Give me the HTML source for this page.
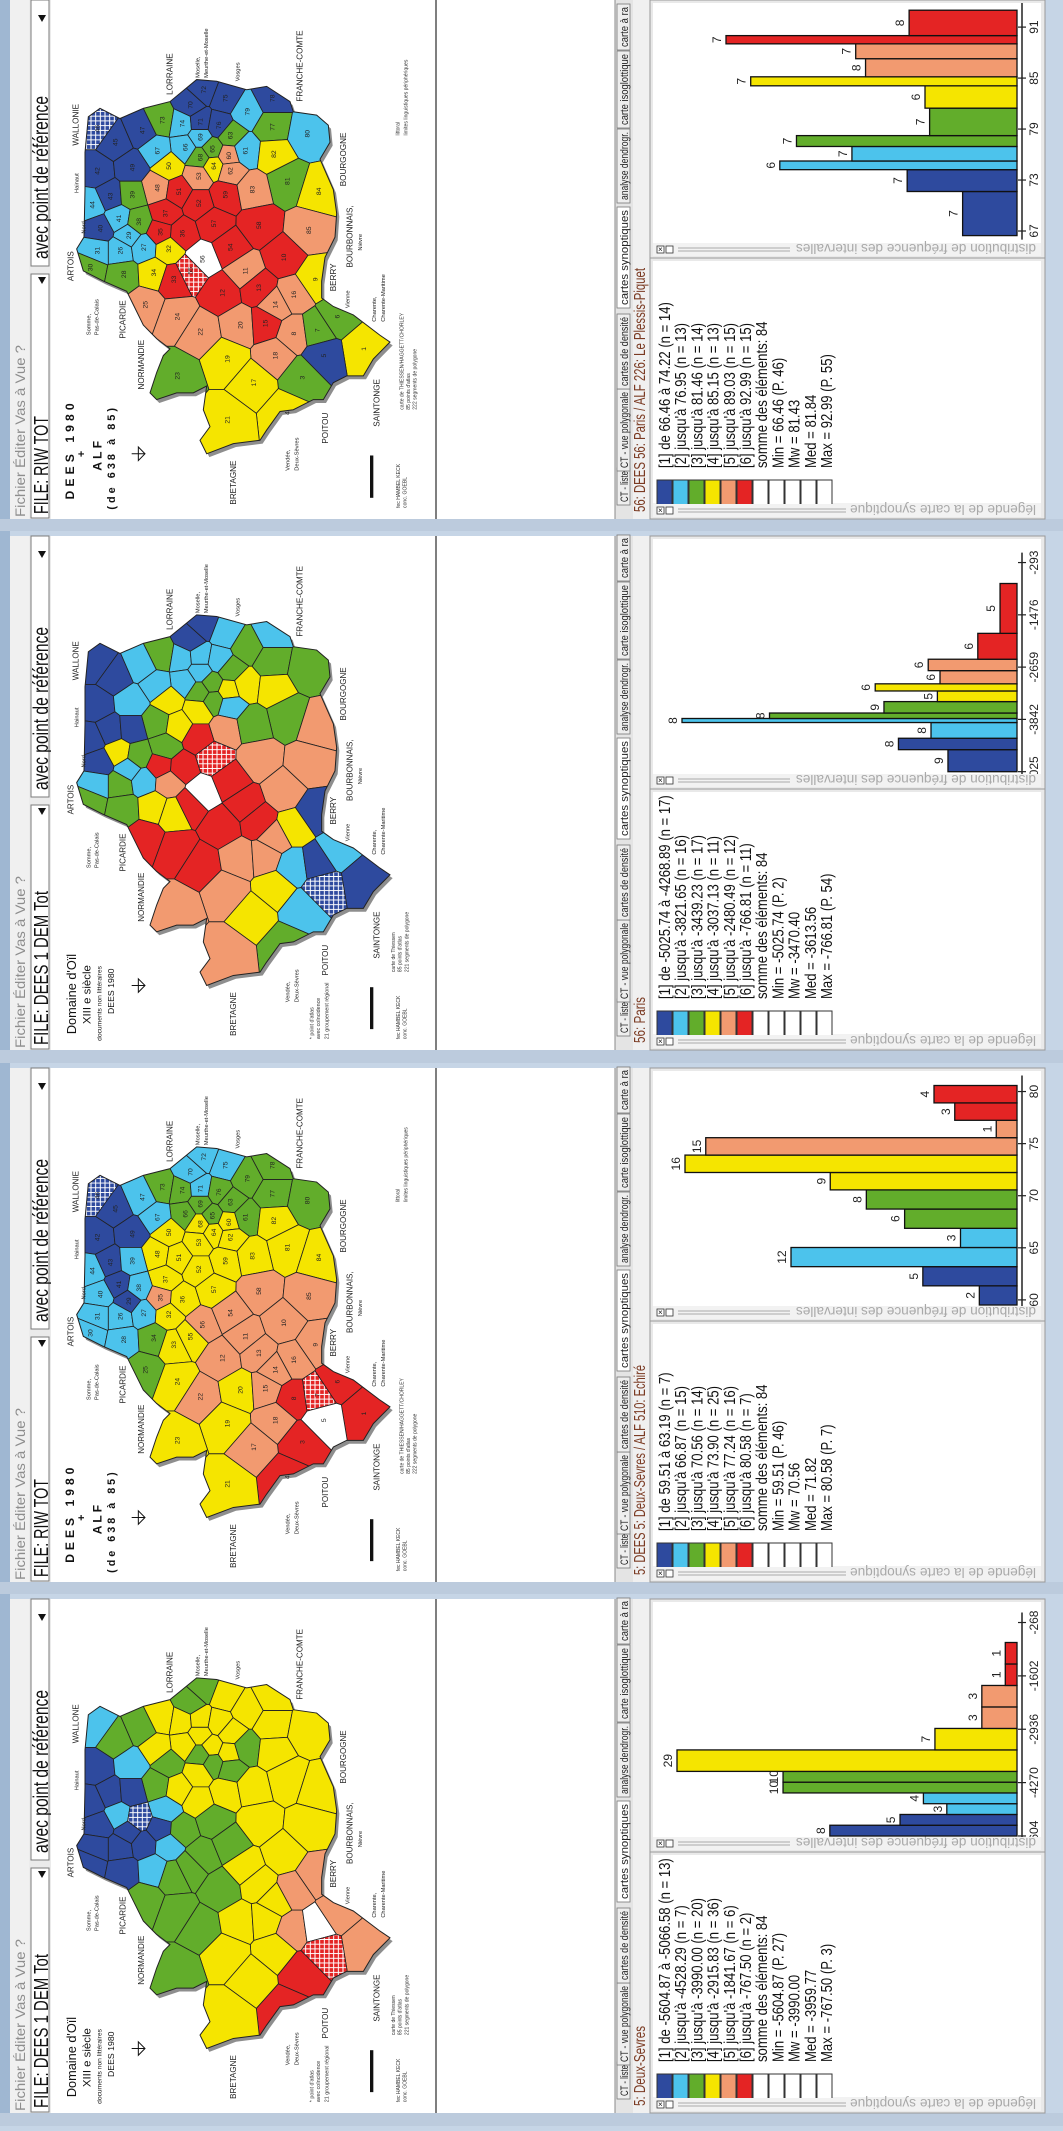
<!DOCTYPE html>
<html><head><meta charset="utf-8">
<style>
html,body{margin:0;padding:0}
body{width:1063px;height:2126px;overflow:hidden;background:#c6d5e6;font-family:"Liberation Sans",Arial,sans-serif}
.panel{position:absolute;left:0;width:1063px;height:532px}
svg text{font-family:"Liberation Sans",Arial,sans-serif}
</style></head>
<body>
<div id="root"></div>
<script>
const NS='http://www.w3.org/2000/svg';

// ---------- chart data (histograms) ----------
const p1Edges=[66.46,71.65,74.22,75.24,76.95,78.23,81.46,84.09,85.15,87.28,89.03,90.0,92.99];
const p1Counts=[7,7,6,7,7,7,6,7,8,7,7,8];
const p1Ticks=[67,73,79,85,91];
const p1TickLabels=['67','73','79','85','91'];

const p2Edges=[-5025.74,-4527,-4268.89,-3913,-3821.65,-3698,-3439.23,-3199,-3037.13,-2739,-2480.49,-1895,-766.81];
const p2Counts=[9,8,8,8,8,9,5,6,6,6,6,5];
const p2Ticks=[-5025,-3842,-2659,-1476,-293];
const p2TickLabels=['-5025','-3842','-2659','-1476','-293'];

const p3Edges=[59.51,61.35,63.19,65.03,66.87,68.72,70.56,72.23,73.90,75.57,77.24,78.91,80.58];
const p3Counts=[2,5,12,3,6,8,9,16,15,1,3,4];
const p3Ticks=[60,65,70,75,80];
const p3TickLabels=['60','65','70','75','80'];

const p4Edges=[-5604.87,-5335.73,-5066.58,-4797.44,-4528.29,-4259.15,-3990.00,-3452.92,-2915.83,-2378.75,-1841.67,-1304.59,-767.50];
const p4Counts=[8,5,3,4,10,10,29,7,3,3,1,1];
const p4Ticks=[-5604,-4270,-2936,-1602,-268];
const p4TickLabels=['-5604','-4270','-2936','-1602','-268'];

const classColors=['#2e4a9e','#4cc3ec','#62ad2b','#f5e500','#f29a70','#e42424'];

const p1Legend=["[1] de 66.46 à 74.22 (n = 14)","[2] jusqu'à 76.95 (n = 13)","[3] jusqu'à 81.46 (n = 14)","[4] jusqu'à 85.15 (n = 13)","[5] jusqu'à 89.03 (n = 15)","[6] jusqu'à 92.99 (n = 15)","somme des éléments: 84","Min = 66.46  (P. 46)","Mw = 81.43","Med = 81.84","Max = 92.99  (P. 55)"];
const p2Legend=["[1] de -5025.74 à -4268.89 (n = 17)","[2] jusqu'à -3821.65 (n = 16)","[3] jusqu'à -3439.23 (n = 17)","[4] jusqu'à -3037.13 (n = 11)","[5] jusqu'à -2480.49 (n = 12)","[6] jusqu'à -766.81 (n = 11)","somme des éléments: 84","Min = -5025.74  (P. 2)","Mw = -3470.40","Med = -3613.56","Max = -766.81  (P. 54)"];
const p3Legend=["[1] de 59.51 à 63.19 (n = 7)","[2] jusqu'à 66.87 (n = 15)","[3] jusqu'à 70.56 (n = 14)","[4] jusqu'à 73.90 (n = 25)","[5] jusqu'à 77.24 (n = 16)","[6] jusqu'à 80.58 (n = 7)","somme des éléments: 84","Min = 59.51  (P. 46)","Mw = 70.56","Med = 71.82","Max = 80.58  (P. 7)"];
const p4Legend=["[1] de -5604.87 à -5066.58 (n = 13)","[2] jusqu'à -4528.29 (n = 7)","[3] jusqu'à -3990.00 (n = 20)","[4] jusqu'à -2915.83 (n = 36)","[5] jusqu'à -1841.67 (n = 6)","[6] jusqu'à -767.50 (n = 2)","somme des éléments: 84","Min = -5604.87  (P. 27)","Mw = -3990.00","Med = -3959.77","Max = -767.50  (P. 3)"];

// ---------- map seeds (shared point network) ----------
const mapSeeds=[[46,290,380],[45,345,420],[47,425,385],[73,485,355],[70,570,310],[72,610,265],[75,675,290],[78,815,290],[79,740,330],[74,545,365],[71,600,360],[76,655,370],[63,690,400],[77,815,375],[80,920,395],[69,600,405],[66,555,435],[65,635,440],[61,735,445],[67,470,445],[42,290,505],[49,395,495],[50,505,490],[68,600,465],[64,640,490],[60,685,460],[62,690,505],[82,820,455],[81,860,535],[84,955,565],[53,595,520],[48,470,555],[51,535,565],[59,675,575],[83,755,560],[44,275,605],[43,330,580],[39,395,575],[52,595,600],[37,495,630],[58,775,665],[85,925,680],[40,300,675],[41,355,645],[29,385,695],[38,415,655],[35,480,685],[36,545,690],[57,640,660],[31,290,740],[26,360,740],[27,430,730],[32,505,735],[56,605,765],[54,690,730],[10,850,760],[30,270,790],[28,370,810],[34,460,805],[33,520,825],[55,570,800],[11,735,800],[9,945,825],[12,665,865],[13,775,850],[16,880,870],[14,825,900],[25,435,900],[24,530,935],[22,600,980],[20,720,960],[15,795,955],[8,880,985],[7,950,975],[6,1010,935],[1,1090,1030],[5,970,1050],[18,825,1050],[19,680,1060],[23,530,1110],[3,905,1115],[17,760,1130],[4,860,1220],[21,680,1240]];
const outline=[[230,735],[252,700],[255,560],[255,450],[265,345],[300,320],[360,350],[430,320],[510,300],[590,235],[650,240],[740,265],[800,255],[870,300],[880,330],[950,340],[985,370],[990,420],[960,470],[1000,560],[1010,630],[1005,700],[975,760],[965,830],[965,880],[1000,905],[1060,930],[1140,990],[1170,1010],[1120,1060],[1090,1110],[1040,1110],[1000,1130],[970,1180],[940,1180],[880,1210],[840,1215],[800,1270],[780,1300],[700,1310],[620,1340],[600,1300],[630,1260],[610,1210],[620,1140],[580,1160],[530,1160],[470,1180],[450,1160],[470,1100],[490,1050],[510,1030],[470,1000],[430,960],[400,900],[380,860],[310,830],[250,800]];

const m1={46:'BH',45:'B',47:'B',73:'G',70:'B',72:'B',75:'B',78:'B',79:'L',74:'L',71:'B',76:'B',63:'G',77:'G',80:'L',69:'L',66:'L',65:'G',61:'L',67:'L',42:'B',49:'B',50:'Y',68:'G',64:'Y',60:'S',62:'S',82:'Y',81:'G',84:'Y',53:'S',48:'S',51:'R',59:'R',83:'S',44:'L',43:'B',39:'G',52:'R',37:'R',58:'R',85:'S',40:'B',41:'L',29:'L',38:'G',35:'R',36:'R',57:'R',31:'L',26:'L',27:'L',32:'Y',56:'W',54:'R',10:'R',30:'G',28:'G',34:'Y',33:'R',55:'RH',11:'S',9:'Y',12:'R',13:'R',16:'S',14:'S',25:'S',24:'S',22:'S',20:'S',15:'R',8:'S',7:'G',6:'G',1:'Y',5:'B',18:'S',19:'Y',23:'G',3:'G',17:'Y',4:'Y',21:'Y'};
const m2={46:'B',45:'B',47:'L',73:'G',70:'B',72:'B',75:'L',78:'L',79:'G',74:'L',71:'L',76:'L',63:'G',77:'G',80:'G',69:'L',66:'L',65:'G',61:'Y',67:'L',42:'B',49:'L',50:'Y',68:'G',64:'G',60:'Y',62:'L',82:'Y',81:'G',84:'S',53:'Y',48:'G',51:'Y',59:'S',83:'G',44:'B',43:'B',39:'B',52:'R',37:'G',58:'S',85:'S',40:'B',41:'Y',29:'L',38:'G',35:'R',36:'R',57:'RH',31:'L',26:'G',27:'L',32:'S',56:'W',54:'R',10:'S',30:'G',28:'G',34:'Y',33:'Y',55:'R',11:'R',9:'B',12:'R',13:'R',16:'Y',14:'S',25:'R',24:'R',22:'R',20:'S',15:'S',8:'L',7:'B',6:'L',1:'B',5:'BH',18:'Y',19:'S',23:'S',3:'L',17:'Y',4:'G',21:'S'};
const m3={46:'BH',45:'B',47:'L',73:'G',70:'L',72:'L',75:'L',78:'G',79:'G',74:'G',71:'L',76:'G',63:'G',77:'G',80:'G',69:'G',66:'G',65:'G',61:'G',67:'L',42:'B',49:'B',50:'Y',68:'Y',64:'Y',60:'Y',62:'Y',82:'Y',81:'Y',84:'Y',53:'Y',48:'Y',51:'Y',59:'Y',83:'Y',44:'L',43:'B',39:'L',52:'Y',37:'Y',58:'S',85:'S',40:'L',41:'B',29:'B',38:'L',35:'S',36:'Y',57:'Y',31:'L',26:'L',27:'L',32:'Y',56:'S',54:'S',10:'S',30:'L',28:'L',34:'G',33:'Y',55:'Y',11:'S',9:'S',12:'S',13:'S',16:'S',14:'S',25:'G',24:'Y',22:'S',20:'Y',15:'S',8:'R',7:'RH',6:'R',1:'R',5:'W',18:'S',19:'Y',23:'Y',3:'R',17:'S',4:'R',21:'Y'};
const m4={46:'L',45:'G',47:'G',73:'Y',70:'G',72:'G',75:'Y',78:'Y',79:'Y',74:'Y',71:'Y',76:'Y',63:'Y',77:'Y',80:'Y',69:'Y',66:'Y',65:'Y',61:'G',67:'Y',42:'B',49:'L',50:'G',68:'G',64:'G',60:'Y',62:'G',82:'Y',81:'Y',84:'Y',53:'Y',48:'G',51:'Y',59:'Y',83:'Y',44:'B',43:'B',39:'B',52:'Y',37:'L',58:'Y',85:'Y',40:'B',41:'L',29:'B',38:'BH',35:'B',36:'G',57:'G',31:'B',26:'B',27:'B',32:'L',56:'G',54:'G',10:'Y',30:'B',28:'B',34:'L',33:'G',55:'G',11:'Y',9:'S',12:'G',13:'Y',16:'S',14:'Y',25:'G',24:'G',22:'G',20:'Y',15:'Y',8:'S',7:'W',6:'S',1:'S',5:'RH',18:'Y',19:'Y',23:'G',3:'R',17:'Y',4:'R',21:'Y'};

const regions=[["ARTOIS",220,830,24],["Hainaut",236,570,17],["Nord",256,690,17],["Somme,",272,990,17],["Pas-de-Calais",296,990,17],["PICARDIE",376,1000,24],["NORMANDIE",432,1150,24],["LORRAINE",518,280,24],["Moselle,",598,230,17],["Meurthe-et-Moselle",624,230,17],["Vosges",718,240,17],["FRANCHE-COMTE",908,300,24],["BOURGOGNE",1038,550,24],["BOURBONNAIS,",1058,790,24],["Nièvre",1086,740,17],["BERRY",1008,860,24],["Vienne",1048,910,17],["Charente,",1128,950,17],["Charente-Maritime",1155,950,17],["SAINTONGE",1138,1260,24],["POITOU",984,1310,24],["Vendée,",868,1390,17],["Deux-Sèvres",895,1390,17],["BRETAGNE",708,1490,24]];

const fillOf={B:'#2e4a9e',L:'#4cc3ec',G:'#62ad2b',Y:'#f5e500',S:'#f29a70',R:'#e42424',W:'#ffffff',BH:'url(#hatchB)',RH:'url(#hatchR)'};

// ---------- helpers ----------
function el(tag,parent){const e=document.createElementNS(NS,tag);parent.appendChild(e);return e;}
function at(e,o){for(const k in o)e.setAttribute(k,o[k]);return e;}
function rtext(parent,str,x,y,size,o){
  const t=el('text',parent);
  at(t,{transform:'translate('+x+' '+y+') rotate(-90)'+(o&&o.sx?' scale('+o.sx+' 1)':''),'font-size':size,fill:(o&&o.fill)||'#111'});
  if(o&&o.weight)t.setAttribute('font-weight',o.weight);
  if(o&&o.anchor)t.setAttribute('text-anchor',o.anchor);
  if(o&&o.len){t.setAttribute('textLength',o.len);t.setAttribute('lengthAdjust','spacingAndGlyphs');}
  if(o&&o.ls)t.setAttribute('letter-spacing',o.ls);
  t.textContent=str;return t;
}
function clipHalf(poly,p,q){
  const mx=(p[0]+q[0])/2,my=(p[1]+q[1])/2,dx=q[0]-p[0],dy=q[1]-p[1];
  const f=v=>(v[0]-mx)*dx+(v[1]-my)*dy;const out=[];
  for(let i=0;i<poly.length;i++){const a=poly[i],b=poly[(i+1)%poly.length];const fa=f(a),fb=f(b);
    if(fa<=0)out.push(a);
    if((fa<0&&fb>0)||(fa>0&&fb<0)){const t=fa/(fa-fb);out.push([a[0]+t*(b[0]-a[0]),a[1]+t*(b[1]-a[1])]);}}
  return out;
}
const cells=mapSeeds.map(s=>{let poly=[[150,150],[1250,150],[1250,1450],[150,1450]];
  for(const q of mapSeeds){if(q!==s)poly=clipHalf(poly,[s[1],s[2]],[q[1],q[2]]);}return poly;});
const ptsStr=a=>a.map(p=>p[0].toFixed(1)+','+p[1].toFixed(1)).join(' ');

// ---------- panel builder ----------
function buildPanel(k,cfg){
  const div=document.createElement('div');div.className='panel';div.style.top=cfg.y0+'px';
  
  
  document.getElementById('root').appendChild(div);
  const svg=document.createElementNS(NS,'svg');div.appendChild(svg);
  at(svg,{width:1063,height:532,viewBox:'0 0 1063 532'});
  const defs=el('defs',svg);
  const pb=at(el('pattern',defs),{id:'hatchB',width:14,height:14,patternUnits:'userSpaceOnUse'});
  at(el('rect',pb),{width:14,height:14,fill:'#2e4a9e'});
  at(el('path',pb),{d:'M0 7H14M7 0V14',stroke:'#fff','stroke-width':3});
  const pr=at(el('pattern',defs),{id:'hatchR',width:14,height:14,patternUnits:'userSpaceOnUse'});
  at(el('rect',pr),{width:14,height:14,fill:'#e42424'});
  at(el('path',pr),{d:'M0 7H14M7 0V14',stroke:'#fff','stroke-width':3});
  const cpH=at(el('clipPath',defs),{id:'clipH'+k});at(el('rect',cpH),{x:653,y:3,width:388,height:240});
  const cpL=at(el('clipPath',defs),{id:'clipL'+k});at(el('rect',cpL),{x:653,y:260,width:388,height:244});
  const cpM=at(el('clipPath',defs),{id:'clipM'+k});at(el('polygon',cpM),{points:ptsStr(outline)});

  const top=cfg.topGap;
  // frame
  at(el('rect',svg),{x:0,y:0,width:1063,height:532,fill:'#c6d5e6'});
  at(el('rect',svg),{x:0,y:0,width:10,height:532,fill:'#9fb7d2'});
  at(el('rect',svg),{x:0,y:519,width:1063,height:13,fill:'#bccbdd'});
  // menu
  const menu=at(el('rect',svg),{x:10,y:top,width:19,height:519-top,fill:'#f0f0f0'});
  
  
  const mt=rtext(svg,'Fichier    Éditer    Vas à    Vue    ?',25,517,14,{fill:'#8d8d8d',len:172});
  
  
  // toolbar
  at(el('rect',svg),{x:29,y:top,width:22,height:519-top,fill:'#ebebeb'});
  const b1=at(el('rect',svg),{x:31,y:274,width:18,height:244,fill:'#fff',stroke:'#7b7b7b'});
  
  
  rtext(svg,cfg.file,48,514,20,{len:cfg.fileLen});
  at(el('polygon',svg),{points:'38,277 46,277 42,284',fill:'#111'});
  const b2=at(el('rect',svg),{x:31,y:top,width:18,height:266-top,fill:'#fff',stroke:'#7b7b7b'});
  
  
  rtext(svg,'avec point de référence',48,259,21,{len:163});
  at(el('polygon',svg),{points:'38,'+(top+15)+' 46,'+(top+15)+' 42,'+(top+22),fill:'#111'});
  // white panes
  at(el('rect',svg),{x:51,y:top,width:564,height:519-top,fill:'#fff'});
  at(el('line',svg),{x1:436,y1:top,x2:436,y2:519,stroke:'#555','stroke-width':1.5});
  // map
  const mapSvg=at(el('svg',svg),{x:0,y:top,width:440,height:531-top,viewBox:'0 0 1320 1568',preserveAspectRatio:'none'});
  
  
  const shadow=at(el('polygon',mapSvg),{points:ptsStr(outline.map(p=>[p[0]+8,p[1]+10])),fill:'#8e8e8e'});
  
  
  const cg=at(el('g',mapSvg),{'clip-path':'url(#clipM'+k+')'});
  mapSeeds.forEach((s,i)=>{
    const c=at(el('polygon',cg),{points:ptsStr(cells[i]),fill:fillOf[cfg.colors[s[0]]],stroke:'#222','stroke-width':2.5});
    
    
  });
  at(el('polygon',mapSvg),{points:ptsStr(outline),fill:'none',stroke:'#222','stroke-width':3});
  if(cfg.riw){mapSeeds.forEach(s=>{const n=rtext(mapSvg,String(s[0]),s[1]+8,s[2],20,{anchor:'middle',fill:'#222'});});}
  regions.forEach(r=>{rtext(mapSvg,r[0],r[1],r[2],r[3],{fill:'#222'});});
  rtext(mapSvg,cfg.riw?'WALLONIE':'WALLONE',236,430,24,{fill:'#222'});
  if(cfg.riw){
    rtext(mapSvg,'DEES 1980',222,1475,36,{weight:'bold',ls:12});
    rtext(mapSvg,'+',255,1350,32,{weight:'bold'});
    rtext(mapSvg,'A L F',305,1390,36,{weight:'bold'});
    rtext(mapSvg,'(de 638 à 85)',345,1505,32,{weight:'bold',ls:9});
    rtext(mapSvg,'littoral',1198,400,15,{fill:'#333'});
    rtext(mapSvg,'limites linguistiques périphériques',1222,400,15,{fill:'#333'});
    rtext(mapSvg,'carte de THIESSEN/HAGGETT/CHORLEY',1210,1210,15,{fill:'#333'});
    rtext(mapSvg,'85 points d\'atlas',1230,1210,15,{fill:'#333'});
    rtext(mapSvg,'222 segments de polygone',1250,1210,15,{fill:'#333'});
  }else{
    rtext(mapSvg,'Domaine d\'Oïl',228,1485,38,{});
    rtext(mapSvg,'XIII e siècle',272,1455,34,{});
    rtext(mapSvg,'documents non littéraires',304,1505,20,{});
    rtext(mapSvg,'DEES 1980',342,1425,26,{});
    rtext(mapSvg,'* point d\'atlas',940,1500,16,{fill:'#333'});
    rtext(mapSvg,'avec coïncidence',960,1500,16,{fill:'#333'});
    rtext(mapSvg,'21 groupement régional',985,1500,16,{fill:'#333'});
    rtext(mapSvg,'carte de Thiessen',1185,1300,15,{fill:'#333'});
    rtext(mapSvg,'85 points d\'atlas',1205,1300,15,{fill:'#333'});
    rtext(mapSvg,'221 segments de polygone',1225,1300,15,{fill:'#333'});
  }
  at(el('rect',mapSvg),{x:1110,y:1345,width:10,height:125,fill:'#111'});
  at(el('path',mapSvg),{d:'M415 1320 L435 1340 L415 1360 Z M435 1340 H395',stroke:'#111','stroke-width':3,fill:'none'});
  rtext(mapSvg,'fec HAMBEL KECK',1200,1500,15,{fill:'#333'});
  rtext(mapSvg,'conc. GOEBL',1220,1500,15,{fill:'#333'});

  // tabs
  at(el('rect',svg),{x:615,y:top,width:18,height:519-top,fill:'#e4e4e4'});
  at(el('line',svg),{x1:615,y1:top,x2:615,y2:519,stroke:'#8a8a8a'});
  const tabs=[['CT - liste',502,31],['CT - vue polygonale',468,76],['cartes de densité',386,69],['cartes synoptiques',305,95],['analyse dendrogr.',200,68],['carte isoglottique',125,71],['carte à ra',47,40]];
  tabs.forEach((t,i)=>{
    const r=at(el('rect',svg),{x:617,y:t[1]-t[2]-3,width:13,height:t[2]+6,fill:i===3?'#fff':'#eeeeee',stroke:'#777','stroke-width':0.8});
    
    
    rtext(svg,t[0],628,t[1],11,{len:t[2],fill:'#222'});
  });
  // status
  at(el('rect',svg),{x:633,y:top,width:18,height:519-top,fill:'#f0f0f0'});
  const st=rtext(svg,cfg.status,645,512,16,{fill:'#7a3a22',len:cfg.statusLen});
  
  
  // subpanels
  at(el('rect',svg),{x:650,y:top,width:395,height:519-top,fill:'#e9e9e9',stroke:'#999'});
  const hp=at(el('rect',svg),{x:653,y:top+3,width:388,height:240-top,fill:'#fff'});
  
  
  at(el('rect',svg),{x:653,y:243,width:388,height:13,fill:'#f2f2f2'});
  at(el('line',svg),{x1:650,y1:258,x2:1045,y2:258,stroke:'#999'});
  const lp=at(el('rect',svg),{x:653,y:261,width:388,height:242,fill:'#fff'});
  
  
  at(el('rect',svg),{x:653,y:503,width:388,height:14,fill:'#f2f2f2'});
  // title bars
  function titleBar(y,text,len,lineEnd){
    at(el('rect',svg),{x:657,y:y+1,width:7,height:7,fill:'#fff',stroke:'#333','stroke-width':0.8});
    at(el('text',svg),{x:658,y:y+7,'font-size':8,fill:'#111'}).textContent='×';
    const ic=at(el('rect',svg),{x:666,y:y+1,width:7,height:7,fill:'#fff',stroke:'#333','stroke-width':0.8});
    
    
    at(el('line',svg),{x1:678,y1:y+3,x2:lineEnd,y2:y+3,stroke:'#aaa'});
    at(el('line',svg),{x1:678,y1:y+6,x2:lineEnd,y2:y+6,stroke:'#aaa'});
    const t=el('text',svg);
    at(t,{transform:'translate(1036 '+(y-1)+') rotate(180)','font-size':14,fill:'#a9a9a9',textLength:len,lengthAdjust:'spacingAndGlyphs'});
    t.textContent=text;
    
    
  }
  titleBar(245,'distribution de fréquence des intervalles',240,790);
  titleBar(506,'légende de la carte synoptique',186,846);

  // histogram
  const hg=at(el('g',svg),{'clip-path':'url(#clipH'+k+')'});
  
  
  drawHist(hg,cfg.edges,cfg.counts,cfg.ticks,cfg.tickLabels,cfg.L);

  // legend
  const lg=at(el('g',svg),{'clip-path':'url(#clipL'+k+')'});
  
  
  for(let i=0;i<11;i++){
    const sw=at(el('rect',lg),{x:657+i*16,y:480,width:15,height:25,fill:i<6?classColors[i]:'#fff',stroke:'#333','stroke-width':1});
    
    
  }
  cfg.legend.forEach((s,i)=>{
    const t=rtext(lg,s,670+i*16.2,468,16,{sx:0.82,fill:'#111'});
    
    
  });
}

function drawHist(g,edges,counts,ticks,tickLabels,L){
  const e0=edges[0],eN=edges[edges.length-1];
  const yS=v=>L.yBot-(v-e0)/(eN-e0)*(L.yBot-L.yTop);
  const dens=counts.map((c,i)=>c/(edges[i+1]-edges[i]));
  const maxD=Math.max(...dens);
  const xS=d=>L.base-d/maxD*L.maxLen;
  const yTopAxis=Math.min(yS(eN),yS(ticks[ticks.length-1]))-10;
  const ax=at(el('line',g),{x1:1022,y1:yTopAxis,x2:1022,y2:L.yBot+4,stroke:'#222','stroke-width':1.5});
  
  
  ticks.forEach((t,i)=>{
    const y=yS(t);
    at(el('line',g),{x1:1018,y1:y,x2:1026,y2:y,stroke:'#222','stroke-width':1.2});
    const lab=rtext(g,tickLabels[i],1038,y,12,{anchor:'middle',fill:'#222'});
    
    
  });
  counts.forEach((c,i)=>{
    const y1=yS(edges[i+1]),y0=yS(edges[i]);const x=xS(dens[i]);
    const b=at(el('rect',g),{x:x,y:y1,width:L.base-x,height:y0-y1,fill:classColors[Math.floor(i/2)],stroke:'#111','stroke-width':1.3});
    
    
    const lab=rtext(g,String(c),x-5,(y0+y1)/2,12,{anchor:'middle',fill:'#222'});
    
    
  });
}

buildPanel(0,{y0:0,topGap:0,file:'FILE: RIW TOT',fileLen:98,riw:true,colors:m1,status:'56: DEES 56: Paris / ALF 226: Le Plessis-Piquet',statusLen:244,
  edges:p1Edges,counts:p1Counts,ticks:p1Ticks,tickLabels:p1TickLabels,legend:p1Legend,L:{yBot:235.6,yTop:10.2,base:1017,maxLen:291}});
buildPanel(1,{y0:531,topGap:5,file:'FILE: DEES 1  DEM  Tot',fileLen:154,riw:false,colors:m2,status:'56: Paris',statusLen:46,
  edges:p2Edges,counts:p2Counts,ticks:p2Ticks,tickLabels:p2TickLabels,legend:p2Legend,L:{yBot:240.7,yTop:52.5,base:1017,maxLen:335}});
buildPanel(2,{y0:1063,topGap:5,file:'FILE: RIW TOT',fileLen:98,riw:true,colors:m3,status:'5: DEES 5: Deux-Sevres / ALF 510: Echiré',statusLen:210,
  edges:p3Edges,counts:p3Counts,ticks:p3Ticks,tickLabels:p3TickLabels,legend:p3Legend,L:{yBot:242,yTop:22.5,base:1017,maxLen:332}});
buildPanel(3,{y0:1594,topGap:5,file:'FILE: DEES 1  DEM  Tot',fileLen:154,riw:false,colors:m4,status:'5: Deux-Sevres',statusLen:80,
  edges:p4Edges,counts:p4Counts,ticks:p4Ticks,tickLabels:p4TickLabels,legend:p4Legend,L:{yBot:242,yTop:48.5,base:1017,maxLen:340}});
</script>
</body></html>
